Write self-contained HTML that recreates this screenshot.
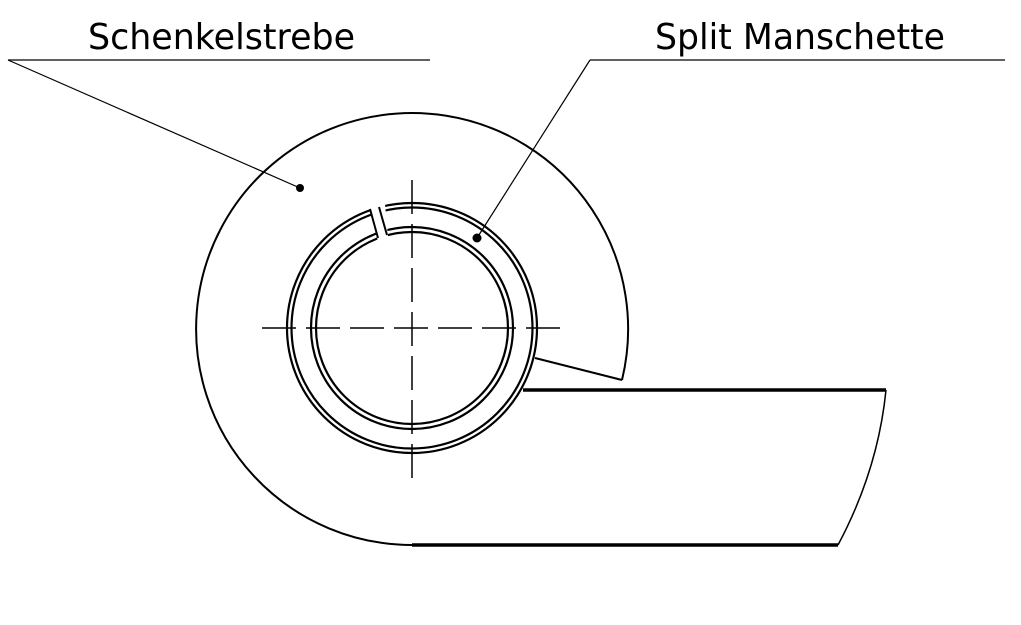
<!DOCTYPE html>
<html><head><meta charset="utf-8"><style>html,body{margin:0;padding:0;background:#fff}svg{display:block}</style></head>
<body>
<svg width="1021" height="625" viewBox="0 0 1021 625" xmlns="http://www.w3.org/2000/svg">
<g font-family="'DejaVu Sans','Liberation Sans',sans-serif" font-size="36" fill="#000">
<text x="88" y="49" textLength="267" lengthAdjust="spacingAndGlyphs">Schenkelstrebe</text>
<text x="655" y="49" textLength="290" lengthAdjust="spacingAndGlyphs">Split Manschette</text>
</g>
<g stroke="#000" fill="none">
<line x1="8" y1="60" x2="430" y2="60" stroke-width="1.2"/>
<line x1="8" y1="60" x2="300" y2="188" stroke-width="1.2"/>
<line x1="590" y1="60" x2="1005" y2="60" stroke-width="1.2"/>
<line x1="590" y1="60" x2="477" y2="238" stroke-width="1.2"/>
<path d="M622 380 A216 216 0 1 0 412 545" stroke-width="2"/>
<line x1="622" y1="380" x2="535" y2="358" stroke-width="2"/>
<line x1="412" y1="545" x2="838" y2="545" stroke-width="3.5"/>
<line x1="523" y1="390" x2="886" y2="390" stroke-width="3.5"/>
<path d="M886 390 Q878 470 838 545" stroke-width="1.5"/>
<circle cx="412" cy="328" r="125" stroke-width="2.2"/>
<circle cx="412" cy="328" r="120.5" stroke-width="2.2"/>
<circle cx="412" cy="328" r="101" stroke-width="2.2"/>
<circle cx="412" cy="328" r="96" stroke-width="2.2"/>
</g>
<polygon points="370,205 385,204 388,237 378,242" fill="#fff"/>
<g stroke="#000" stroke-width="2" fill="none">
<line x1="370" y1="209" x2="378" y2="238"/>
<line x1="379" y1="207" x2="387" y2="235"/>
</g>
<g stroke="#000" stroke-width="1.5">
<line x1="412" y1="180" x2="412" y2="478" stroke-dasharray="34,10"/>
<line x1="262" y1="328" x2="562" y2="328" stroke-dasharray="34,10"/>
</g>
<circle cx="300" cy="188" r="4" fill="#000"/>
<circle cx="477" cy="238" r="4.5" fill="#000"/>
</svg>
</body></html>
